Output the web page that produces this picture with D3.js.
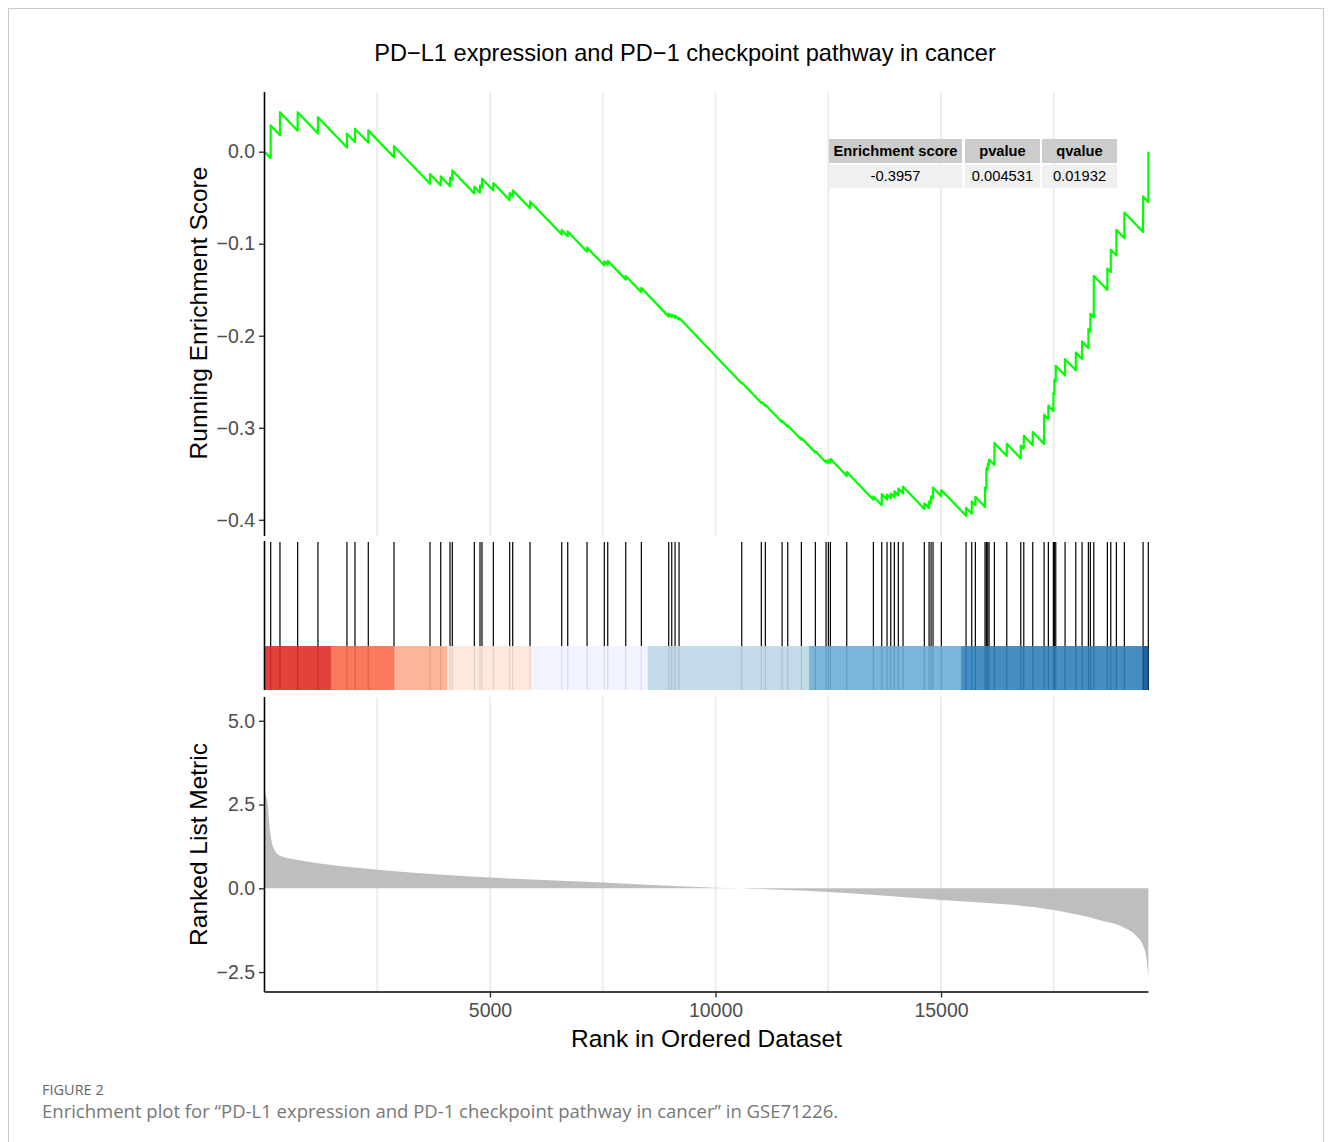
<!DOCTYPE html>
<html><head><meta charset="utf-8">
<script src="https://cdn.jsdelivr.net/npm/d3@7"></script>
<style>
body{margin:0;background:#fff;}
</style></head><body>
<svg id="chart" width="1331" height="1142" font-family="Liberation Sans, Arial, Helvetica, sans-serif"></svg>
<script>
// ---------------- data ----------------
const N = 19600;
const titleText = "PD\u2212L1 expression and PD\u22121 checkpoint pathway in cancer";
const hitRanks = [138,344,736,1186,1829,2007,2302,2872,3670,3908,
  4114,4165,4653,4779,4823,5074,5437,5504,5888,6591,
  6724,7152,7535,7611,8010,8356,8963,9030,9103,9192,
  10582,11016,11105,11476,11602,11904,12214,12451,12502,12547,
  12910,13500,13686,13803,13886,13965,14054,14158,14630,14735,
  14779,14823,15007,15555,15681,15761,15976,16005,16036,16065,
  16183,16458,16768,16835,17034,17285,17380,17491,17513,17544,
  17750,17988,18127,18267,18311,18387,18688,18764,18888,19065,
  19480,19596];
const esBefore = [-0.007,0.0180,0.0229,0.0199,0.0045,0.0105,0.0099,-0.0060,-0.0349,-0.0364,
  -0.0374,-0.0306,-0.0453,-0.0445,-0.0388,-0.0421,-0.0526,-0.0484,-0.0615,-0.0900,
  -0.0918,-0.1086,-0.1237,-0.1229,-0.1390,-0.1527,-0.1792,-0.1794,-0.1808,-0.1825,
  -0.2518,-0.2731,-0.2763,-0.2940,-0.2990,-0.3130,-0.3270,-0.3377,-0.3381,-0.3378,
  -0.3523,-0.3782,-0.3842,-0.3780,-0.3767,-0.3756,-0.3735,-0.3713,-0.3882,-0.3873,
  -0.3823,-0.3768,-0.3745,-0.3957,-0.3935,-0.3841,-0.3860,-0.3665,-0.3456,-0.3405,
  -0.3405,-0.3306,-0.3333,-0.3227,-0.3189,-0.3175,-0.2908,-0.2817,-0.2634,-0.2494,
  -0.2432,-0.2376,-0.2253,-0.2134,-0.1951,-0.1800,-0.1503,-0.1309,-0.1129,-0.0939,
  -0.0873,-0.0546];
const esAfter = [0.0286,0.043,0.043,0.0375,0.0196,0.025,0.0232,0.006,-0.0242,-0.0268,
  -0.0280,-0.0203,-0.0380,-0.0365,-0.0293,-0.0340,-0.0450,-0.0420,-0.0540,-0.0850,
  -0.0866,-0.1040,-0.1190,-0.1185,-0.1350,-0.1480,-0.1760,-0.1770,-0.1780,-0.1805,
  -0.2508,-0.2718,-0.2750,-0.2925,-0.2975,-0.3110,-0.3255,-0.3355,-0.3355,-0.3337,
  -0.3480,-0.3746,-0.3720,-0.3725,-0.3715,-0.3690,-0.3660,-0.3640,-0.3820,-0.3800,
  -0.3745,-0.3650,-0.3676,-0.3870,-0.3800,-0.3750,-0.3650,-0.3440,-0.3390,-0.3345,
  -0.3165,-0.3174,-0.3193,-0.3087,-0.3047,-0.2859,-0.2760,-0.2623,-0.2478,-0.2326,
  -0.2254,-0.2181,-0.2062,-0.1928,-0.1761,-0.1348,-0.1270,-0.1065,-0.0848,-0.0660,
  -0.0486,0.0];
const metricRanks  = [1, 63, 123, 196, 345, 715, 1453, 2562, 5001, 7513, 9213, 10012, 10544, 12984, 15001, 17506, 18526, 19043, 19340, 19487, 19562, 19597];
const metricValues = [2.85, 2.6, 1.72, 1.23, 0.97, 0.85, 0.70, 0.55, 0.32, 0.17, 0.06, 0.02, 0.0, -0.15, -0.35, -0.65, -0.95, -1.16, -1.44, -1.74, -2.14, -2.69];
const bandBreaks = [1, 1491, 2861, 4059, 5910, 8498, 12074, 15444, 19469, 19600];
const bandColors = ["#DE2D26","#FB6A4A","#FCAE91","#FEE5D9","#EFF3FF","#BDD7E7","#6BAED6","#3182BD","#08519C"];
const xTicks = [5000, 10000, 15000];
const xGrid = [2500, 5000, 7500, 10000, 12500, 15000, 17500];
const esTicks = [0, -0.1, -0.2, -0.3, -0.4];
const esDomain = [-0.4176, 0.0649];
const metricTicks = [5, 2.5, 0, -2.5];
const metricDomain = [-3.095, 5.71];
const tableHeader = ["Enrichment score", "pvalue", "qvalue"];
const tableValues = ["-0.3957", "0.004531", "0.01932"];
const captionLabel = "FIGURE 2";
const captionText = "Enrichment plot for \u201CPD-L1 expression and PD-1 checkpoint pathway in cancer\u201D in GSE71226.";

// ---------------- layout ----------------
const svg = d3.select("#chart");
const L = 264.5, R = 1148.5;
const top1 = 92, bot1 = 536;      // ES panel
const top2 = 541, bot2 = 690;     // hits panel
const bandTop = 646;
const top3 = 697, bot3 = 992;     // ranked metric panel

const x = d3.scaleLinear().domain([1, N]).range([L, R]);
const yES = d3.scaleLinear().domain(esDomain).range([bot1, top1]);
const yM = d3.scaleLinear().domain(metricDomain).range([bot3, top3]);

svg.append("rect").attr("width",1331).attr("height",1142).attr("fill","#fff");
// outer frame
svg.append("rect").attr("x",8.5).attr("y",8.5).attr("width",1315).attr("height",1200)
  .attr("fill","none").attr("stroke","#c9c9c9").attr("stroke-width",1);

// title
svg.append("text").attr("x",685).attr("y",61).attr("text-anchor","middle")
  .attr("font-size",23.6).attr("fill","#000").text(titleText);

// grid
function grid(t, b){
  svg.append("g").selectAll("line").data(xGrid).join("line")
    .attr("x1", d=>x(d)).attr("x2", d=>x(d)).attr("y1", t).attr("y2", b)
    .attr("stroke","#ebebeb").attr("stroke-width",1.8);
}
grid(top1, bot1);
grid(top3, bot3);

// ---- ES panel ----
const esPts = [[1, 0]];
hitRanks.forEach((r,i)=>{ esPts.push([r, esBefore[i]]); esPts.push([r, esAfter[i]]); });
svg.append("path").datum(esPts)
  .attr("d", d3.line().x(d=>x(d[0])).y(d=>yES(d[1])))
  .attr("fill","none").attr("stroke","#00FF00").attr("stroke-width",2.2).attr("stroke-linejoin","round");

const fmt1 = d3.format(".1f");
const gyES = svg.append("g").attr("transform",`translate(${L},0)`)
  .call(d3.axisLeft(yES).tickValues(esTicks).tickFormat(fmt1).tickSizeOuter(0).tickSize(5.5).tickPadding(4));

// ---- hits panel ----
svg.append("g").selectAll("line").data(hitRanks).join("line")
  .attr("x1", d=>x(d)).attr("x2", d=>x(d)).attr("y1", top2+1).attr("y2", bot2)
  .attr("stroke","#000").attr("stroke-width",1.2);
svg.append("g").selectAll("rect").data(bandColors).join("rect")
  .attr("x", (d,i)=>x(bandBreaks[i])).attr("width", (d,i)=>x(bandBreaks[i+1]) - x(bandBreaks[i]))
  .attr("y", bandTop).attr("height", bot2 - bandTop)
  .attr("fill", d=>d).attr("fill-opacity",0.9);
svg.append("line").attr("x1",L).attr("x2",L).attr("y1",top2).attr("y2",bot2)
  .attr("stroke","#000").attr("stroke-width",1.6);

// ---- metric panel ----
const mPts = metricRanks.map((r,i)=>[r, metricValues[i]]);
svg.append("path").datum(mPts)
  .attr("d", d3.area().x(d=>x(d[0])).y0(yM(0)).y1(d=>yM(d[1])).curve(d3.curveMonotoneX))
  .attr("fill","#BEBEBE");
const gyM = svg.append("g").attr("transform",`translate(${L},0)`)
  .call(d3.axisLeft(yM).tickValues(metricTicks).tickFormat(fmt1).tickSizeOuter(0).tickSize(5.5).tickPadding(4));
const gx = svg.append("g").attr("transform",`translate(0,${bot3})`)
  .call(d3.axisBottom(x).tickValues(xTicks).tickFormat(d3.format("d")).tickSizeOuter(0).tickSize(5.5).tickPadding(6));

// axis styling
[gyES, gyM, gx].forEach(g=>{
  g.attr("font-family", null);
  g.select(".domain").attr("stroke","#000").attr("stroke-width",1.6);
  g.selectAll(".tick line").attr("stroke","#333").attr("stroke-width",1.4);
  g.selectAll(".tick text").attr("fill","#4d4d4d").attr("font-size",19.5);
});
gyES.select(".domain").attr("d", `M0,${top1}V${bot1}`);
gyM.select(".domain").attr("d", `M0,${top3}V${bot3}`);
gx.select(".domain").attr("d", `M${L},0H${R}`);

// axis titles
svg.append("text").attr("transform",`translate(207,${(top1+bot1)/2 - 1}) rotate(-90)`)
  .attr("text-anchor","middle").attr("font-size",24.5).attr("fill","#000").text("Running Enrichment Score");
svg.append("text").attr("transform",`translate(207,${(top3+bot3)/2}) rotate(-90)`)
  .attr("text-anchor","middle").attr("font-size",24.5).attr("fill","#000").text("Ranked List Metric");
svg.append("text").attr("x",(L+R)/2).attr("y",1047).attr("text-anchor","middle")
  .attr("font-size",24.5).attr("fill","#000").text("Rank in Ordered Dataset");

// ---- table ----
const colX = [829, 965, 1042];
const colW = [133, 75, 75];
const tbl = svg.append("g");
tableHeader.forEach((h,i)=>{
  tbl.append("rect").attr("x",colX[i]).attr("y",139).attr("width",colW[i]).attr("height",24).attr("fill","#cccccc");
  tbl.append("text").attr("x",colX[i]+colW[i]/2).attr("y",151).attr("dy","0.35em").attr("text-anchor","middle")
    .attr("font-size",14.7).attr("font-weight","bold").attr("fill","#000").text(h);
});
tableValues.forEach((v,i)=>{
  tbl.append("rect").attr("x",colX[i]).attr("y",164.5).attr("width",colW[i]).attr("height",23.5).attr("fill","#f0f0f0");
  tbl.append("text").attr("x",colX[i]+colW[i]/2).attr("y",176).attr("dy","0.35em").attr("text-anchor","middle")
    .attr("font-size",14.7).attr("fill","#000").text(v);
});

// ---- caption ----
svg.append("text").attr("x",42).attr("y",1095).attr("font-size",14.5)
  .attr("font-family","Open Sans, sans-serif").attr("fill","#666").text(captionLabel);
svg.append("text").attr("x",42).attr("y",1118).attr("font-size",18.5)
  .attr("font-family","Open Sans, sans-serif").attr("fill","#777").text(captionText);
</script>
</body></html>
